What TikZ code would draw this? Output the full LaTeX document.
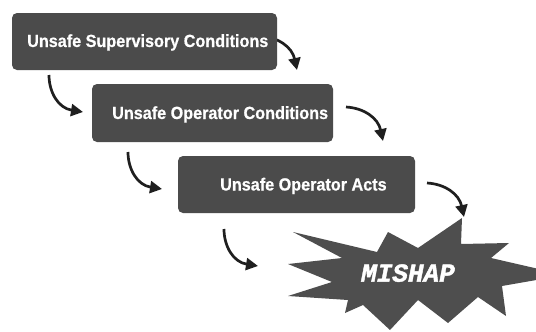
\documentclass[tikz,border=0pt]{standalone}
\usepackage{fontspec}
\setmainfont{Liberation Sans}
\newfontfamily\boxfont{Liberation Sans}[FakeStretch=0.92, FakeBold=0.6]
\newfontfamily\mishapfont{Liberation Mono}[FakeBold=1.6]
\usetikzlibrary{arrows.meta}
\definecolor{boxgray}{HTML}{4B4B4B}
\definecolor{stargray}{HTML}{4E4E4E}
\definecolor{arrowdark}{HTML}{1F1F1F}
\begin{document}
\begin{tikzpicture}[x=1pt,y=-1pt,
  stepbox/.style={fill=boxgray, rounded corners=5pt, inner sep=0pt},
  boxlabel/.style={text=white, font=\boxfont\fontsize{17.6}{20}\selectfont\bfseries, inner sep=0pt, anchor=base west},
  flow/.style={draw=arrowdark, line width=2.7pt, -{Triangle[length=12pt,width=12pt]}},
  starlabel/.style={text=white, font=\mishapfont\fontsize{26}{30}\selectfont\bfseries\itshape, inner sep=0pt, anchor=base west}
]
\useasboundingbox (0,0) rectangle (536,332);

% arrow partly hidden behind first box
\coordinate (a1s) at (260,36);
\coordinate (a1e) at (297,70);
\draw[flow] (a1s) .. controls (278,37) and (292,47) .. (a1e);

% boxes
\node[stepbox, minimum width=265pt, minimum height=57pt] (b1) at (144.5,41.5) {};
\node[stepbox, minimum width=241pt, minimum height=58pt] (b2) at (212.5,113) {};
\node[stepbox, minimum width=237pt, minimum height=57pt] (b3) at (296.5,184.5) {};
\node[boxlabel] (t1) at (27,47) {Unsafe Supervisory Conditions};
\node[boxlabel] (t2) at (112,119) {Unsafe Operator Conditions};
\node[boxlabel] (t3) at (220,190.5) {Unsafe Operator Acts};

% star
\begin{scope}
\clip (0,0) rectangle (536,332);
\fill[stargray] (462,218) -- (461,244) -- (509,243) -- (491,258) -- (565,275)
  -- (502,286) -- (506,316) -- (478,297) -- (448,323) -- (418,300)
  -- (390,330) -- (363,305) -- (345,313) -- (348,300) -- (288,296)
  -- (332,282) -- (288,264) -- (342,258) -- (293,232) -- (377,252)
  -- (388,232) -- (418,248) -- cycle;
\end{scope}
\node[starlabel] (mishap) at (361,281.7) {MISHAP};

% connectors
\coordinate (a2s) at (49,75);   \coordinate (a2e) at (83,112);
\coordinate (a3s) at (346,107); \coordinate (a3e) at (383,141);
\coordinate (a4s) at (128,152); \coordinate (a4e) at (162,189);
\coordinate (a5s) at (427,183); \coordinate (a5e) at (464,217);
\coordinate (a6s) at (224,229); \coordinate (a6e) at (258,266);
\draw[flow] (a2s) .. controls (49,92) and (58,108) .. (a2e);
\draw[flow] (a3s) .. controls (364,108) and (378,118) .. (a3e);
\draw[flow] (a4s) .. controls (128,169) and (137,185) .. (a4e);
\draw[flow] (a5s) .. controls (445,184) and (459,194) .. (a5e);
\draw[flow] (a6s) .. controls (224,246) and (233,262) .. (a6e);
\end{tikzpicture}
\end{document}
